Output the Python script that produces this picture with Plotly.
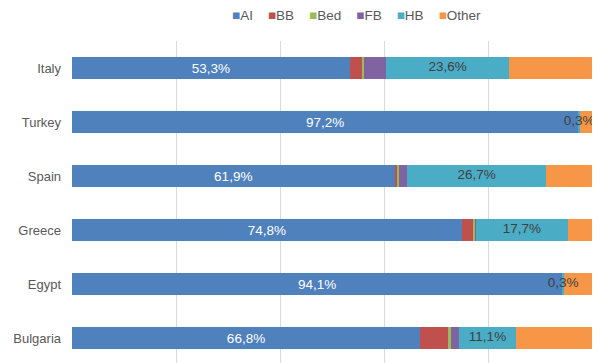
import plotly.graph_objects as go

countries = ["Italy", "Turkey", "Spain", "Greece", "Egypt", "Bulgaria"]
series_names = ["AI", "BB", "Bed", "FB", "HB", "Other"]
colors = ["#4F81BD", "#C0504D", "#9BBB59", "#8064A2", "#4BACC6", "#F79646"]

ai = [53.3, 97.2, 61.9, 74.8, 94.1, 66.8]
bb = [2.3, 0.0, 0.6, 2.3, 0.0, 5.3]
bed = [0.5, 0.0, 0.2, 0.3, 0.0, 0.6]
fb = [4.2, 0.0, 1.6, 0.1, 0.0, 1.5]
hb = [23.6, 0.3, 26.7, 17.7, 0.3, 11.1]
other = [16.1, 2.5, 9.0, 4.8, 5.6, 14.7]

values = [ai, bb, bed, fb, hb, other]

def fmt(v):
    return f"{v:.1f}%".replace(".", ",")

FONT = "Liberation Sans, Arial, sans-serif"

fig = go.Figure()
for name, col, vals in zip(series_names, colors, values):
    kw = {}
    if name == "AI":
        kw = dict(text=[fmt(v) for v in vals], textposition="inside",
                  insidetextanchor="middle",
                  textfont=dict(color="white", size=13.5, family=FONT))
    fig.add_trace(go.Bar(
        y=countries, x=vals, name=name, orientation="h",
        marker=dict(color=col, line=dict(width=0)),
        showlegend=False, **kw))

# HB labels on top of everything, centered on the HB segment
hb_start = [a + b + c + d for a, b, c, d in zip(ai, bb, bed, fb)]
hb_mid = [s + h / 2 for s, h in zip(hb_start, hb)]
fig.add_trace(go.Scatter(
    x=hb_mid, y=countries, mode="text", text=[fmt(v) for v in hb],
    textfont=dict(color="#404040", size=13.5, family=FONT),
    showlegend=False, hoverinfo="skip", cliponaxis=False))

legend_text = "&nbsp;&nbsp;&nbsp;&nbsp;".join(
    f"<span style='color:{c}'>■</span>{n}" for n, c in zip(series_names, colors))
fig.add_annotation(text=legend_text, xref="paper", yref="paper",
                   x=0.547, y=1, yshift=26, xanchor="center", yanchor="middle",
                   showarrow=False, font=dict(size=13.5, color="#595959", family=FONT))

# page body has an 8px margin; offset the figure margins to compensate
fig.update_layout(
    width=600, height=363,
    margin=dict(l=64, r=15, t=33, b=0, autoexpand=False),
    barmode="stack", bargap=0.59,
    plot_bgcolor="white", paper_bgcolor="white",
    font=dict(family=FONT, color="#595959", size=13),
    xaxis=dict(range=[0, 100], dtick=20, showgrid=True, gridcolor="#D9D9D9",
               gridwidth=1, zeroline=False, showticklabels=False, showline=False,
               automargin=False),
    yaxis=dict(categoryorder="array", categoryarray=countries,
               range=[-0.5 + 330 / 54, -0.5], showgrid=False, zeroline=False,
               automargin=False,
               ticklabelstandoff=10, tickfont=dict(size=13, color="#595959")),
)

fig.write_html("out.html")
